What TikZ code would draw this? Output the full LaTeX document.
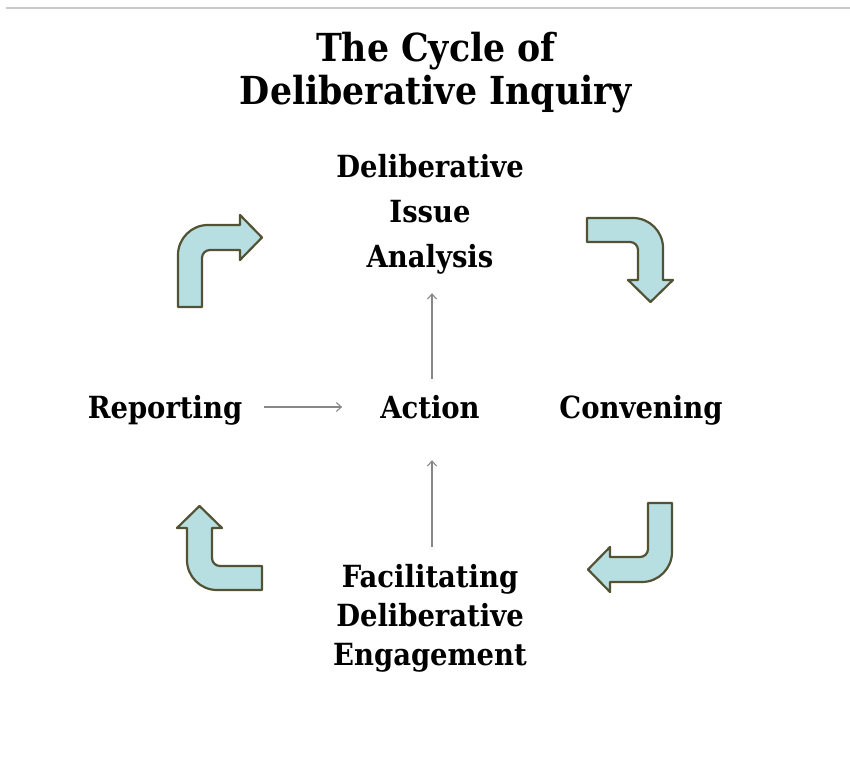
\documentclass[tikz,border=0pt]{standalone}
\usepackage{fontspec}
\setmainfont{DejaVu Serif Condensed}
\usetikzlibrary{arrows.meta}
\definecolor{bendfill}{RGB}{183,222,224}
\definecolor{bendline}{RGB}{82,82,52}
\definecolor{thingray}{RGB}{135,135,135}
\definecolor{rulegray}{RGB}{200,200,200}
\tikzset{
  pics/bentarrow/.style={code={
    \draw[fill=bendfill, draw=bendline, line width=2.2pt, line join=round]
      (0,-#1) -- (0,-30) arc (180:90:30pt) -- (62,0) -- (62,10) -- (84,-12.5)
      -- (62,-35) -- (62,-25) -- (32,-25) arc (90:180:8pt) -- (24,-#1) -- cycle;
  }}
}
\begin{document}
\begin{tikzpicture}[x=1pt, y=1pt,
    step label/.style={font=\bfseries\fontsize{30.5}{36}\selectfont, inner sep=0pt, anchor=base, text height=22pt, text depth=7pt},
    title label/.style={font=\bfseries\fontsize{38.6}{45}\selectfont, inner sep=0pt, anchor=base},
    thin/.style={->, >={Straight Barb[length=5pt, width=9pt]}, draw=thingray, line width=1.1pt}]
    \useasboundingbox (0,0) rectangle (850,757);
    \draw[rulegray, line width=1.5pt] (6,749) -- (850,749);

    %Nodes
    \node[title label] at (436, 695) (title1) {The Cycle of};
    \node[title label] at (436, 652) (title2) {Deliberative Inquiry};

    \node[step label] at (430, 579) (dia1) {Deliberative};
    \node[step label] at (430, 534) (dia2) {Issue};
    \node[step label] at (430, 489) (dia3) {Analysis};

    \node[step label] at (165, 338) (report) {Reporting};
    \node[step label] at (430, 338) (action) {Action};
    \node[step label] at (641, 338) (convene) {Convening};

    \node[step label] at (430, 169) (fde1) {Facilitating};
    \node[step label] at (430, 130) (fde2) {Deliberative};
    \node[step label] at (430, 92) (fde3) {Engagement};

    %Lines
    \draw[thin, shorten <=22pt, shorten >=38pt] ([yshift=4.5pt]report.east) -- ([yshift=4.5pt]action.west);
    \draw[thin, shorten <=18pt, shorten >=18pt] ([xshift=2pt]action.north) -- ([xshift=2pt]dia3.south);
    \draw[thin, shorten <=19pt, shorten >=34pt] ([xshift=2pt]fde1.north) -- ([xshift=2pt]action.south);

    %Bent arrows
    \pic at (178, 532) {bentarrow=82};
    \pic[rotate=-90] at (663, 539) {bentarrow=76};
    \pic[rotate=180] at (672, 175) {bentarrow=79};
    \pic[rotate=90] at (187, 167) {bentarrow=75};

\end{tikzpicture}
\end{document}
